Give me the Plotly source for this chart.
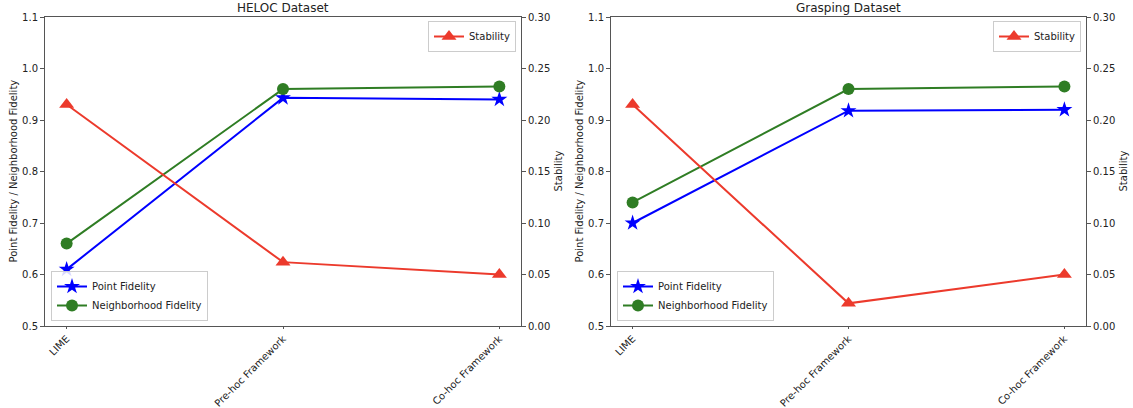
import plotly.graph_objects as go

categories = ["LIME", "Pre-hoc Framework", "Co-hoc Framework"]
titles = ["HELOC Dataset", "Grasping Dataset"]

heloc_point = [0.61, 0.943, 0.94]
heloc_neigh = [0.66, 0.96, 0.965]
heloc_stab = [0.215, 0.062, 0.05]

grasp_point = [0.70, 0.918, 0.92]
grasp_neigh = [0.74, 0.96, 0.965]
grasp_stab = [0.215, 0.022, 0.05]

fid_ticks = [0.5, 0.6, 0.7, 0.8, 0.9, 1.0, 1.1]
stab_ticks = [0.0, 0.05, 0.10, 0.15, 0.20, 0.25, 0.30]

BLUE = "#0000ff"
GREEN = "#2f7d24"
RED = "#ec3a2c"
AX = "#555555"
FONT = "DejaVu Sans"

W, H = 1133, 408
panels = [
    dict(x0=45, x1=521, point=heloc_point, neigh=heloc_neigh, stab=heloc_stab, title=titles[0]),
    dict(x0=611, x1=1086, point=grasp_point, neigh=grasp_neigh, stab=grasp_stab, title=titles[1]),
]
ytop, ybot = 17, 326

fig = go.Figure()
layout = dict(
    width=W, height=H, margin=dict(l=0, r=0, t=0, b=0, autoexpand=False),
    paper_bgcolor="white", plot_bgcolor="white",
    font=dict(family=FONT, size=10, color="#222222"),
    showlegend=True, annotations=[],
)

legend_names = ["legend", "legend2", "legend3", "legend4"]
for i, p in enumerate(panels):
    xa = "x" if i == 0 else f"x{i+1}"
    xkey = "xaxis" if i == 0 else f"xaxis{i+1}"
    yakey = "yaxis" if i == 0 else f"yaxis{2*i+1}"
    ybkey = f"yaxis{2*i+2}"
    ya_ref = "y" if i == 0 else f"y{2*i+1}"
    yb = f"y{2*i+2}"
    dom_x = [p["x0"] / W, p["x1"] / W]
    dom_y = [1 - ybot / H, 1 - ytop / H]
    leg_fid = legend_names[2 * i]
    leg_stab = legend_names[2 * i + 1]

    fig.add_trace(go.Scatter(
        x=categories, y=p["point"], name="Point Fidelity", mode="lines+markers",
        line=dict(color=BLUE, width=2), marker=dict(symbol="star", size=12, color=BLUE),
        xaxis=xa, yaxis=ya_ref, legend=leg_fid))
    fig.add_trace(go.Scatter(
        x=categories, y=p["neigh"], name="Neighborhood Fidelity", mode="lines+markers",
        line=dict(color=GREEN, width=2), marker=dict(symbol="circle", size=12, color=GREEN),
        xaxis=xa, yaxis=ya_ref, legend=leg_fid))
    fig.add_trace(go.Scatter(
        x=categories, y=p["stab"], name="Stability", mode="lines+markers",
        line=dict(color=RED, width=2), marker=dict(symbol="triangle-up", size=13, color=RED),
        xaxis=xa, yaxis=yb, legend=leg_stab))

    layout[xkey] = dict(
        domain=dom_x, anchor=ya_ref, type="category", range=[-0.1, 2.1],
        showline=True, linecolor=AX, linewidth=1, mirror=True, automargin=False,
        ticks="outside", ticklen=2, tickcolor=AX, tickangle=-45,
        showgrid=False, zeroline=False, tickfont=dict(size=10),
    )
    layout[yakey] = dict(
        domain=dom_y, anchor=xa, range=[0.5, 1.1], tickvals=fid_ticks,
        ticktext=[f"{v:.1f}" for v in fid_ticks], automargin=False,
        showline=True, linecolor=AX, linewidth=1,
        ticks="outside", ticklen=4, tickcolor=AX, showgrid=False, zeroline=False,
    )
    layout[ybkey] = dict(
        overlaying=ya_ref, anchor=xa, side="right", range=[0, 0.3], tickvals=stab_ticks,
        ticktext=[f"{v:.2f}" for v in stab_ticks], automargin=False,
        showline=True, linecolor=AX, linewidth=1,
        ticks="outside", ticklen=4, tickcolor=AX, showgrid=False, zeroline=False,
    )
    layout[leg_fid] = dict(
        x=dom_x[0] + 6 / W, y=dom_y[0] + 5 / H, xanchor="left", yanchor="bottom",
        bgcolor="rgba(255,255,255,0.85)", bordercolor="#cccccc", borderwidth=1,
        font=dict(size=10), tracegroupgap=0, itemwidth=30,
    )
    layout[leg_stab] = dict(
        x=dom_x[1] - 5 / W, y=dom_y[1] - 4 / H, xanchor="right", yanchor="top",
        bgcolor="rgba(255,255,255,0.85)", bordercolor="#cccccc", borderwidth=1,
        font=dict(size=10), itemwidth=30,
    )
    ymid = (dom_y[0] + dom_y[1]) / 2
    layout["annotations"] += [
        dict(text=p["title"], x=(dom_x[0] + dom_x[1]) / 2, y=dom_y[1], xref="paper", yref="paper",
             xanchor="center", yanchor="bottom", showarrow=False, yshift=0,
             font=dict(size=12, family=FONT, color="#222222")),
        dict(text="Point Fidelity / Neighborhood Fidelity", x=(p["x0"] - 32) / W, y=ymid,
             xref="paper", yref="paper", xanchor="center", yanchor="middle", textangle=-90,
             showarrow=False, font=dict(size=10, family=FONT, color="#222222")),
        dict(text="Stability", x=(p["x1"] + 37) / W, y=ymid,
             xref="paper", yref="paper", xanchor="center", yanchor="middle", textangle=-90,
             showarrow=False, font=dict(size=10, family=FONT, color="#222222")),
    ]

fig.update_layout(**layout)
fig.write_html("out.html", config={"displayModeBar": False},
               post_script="document.body.style.margin='0';document.body.style.overflow='hidden';")
